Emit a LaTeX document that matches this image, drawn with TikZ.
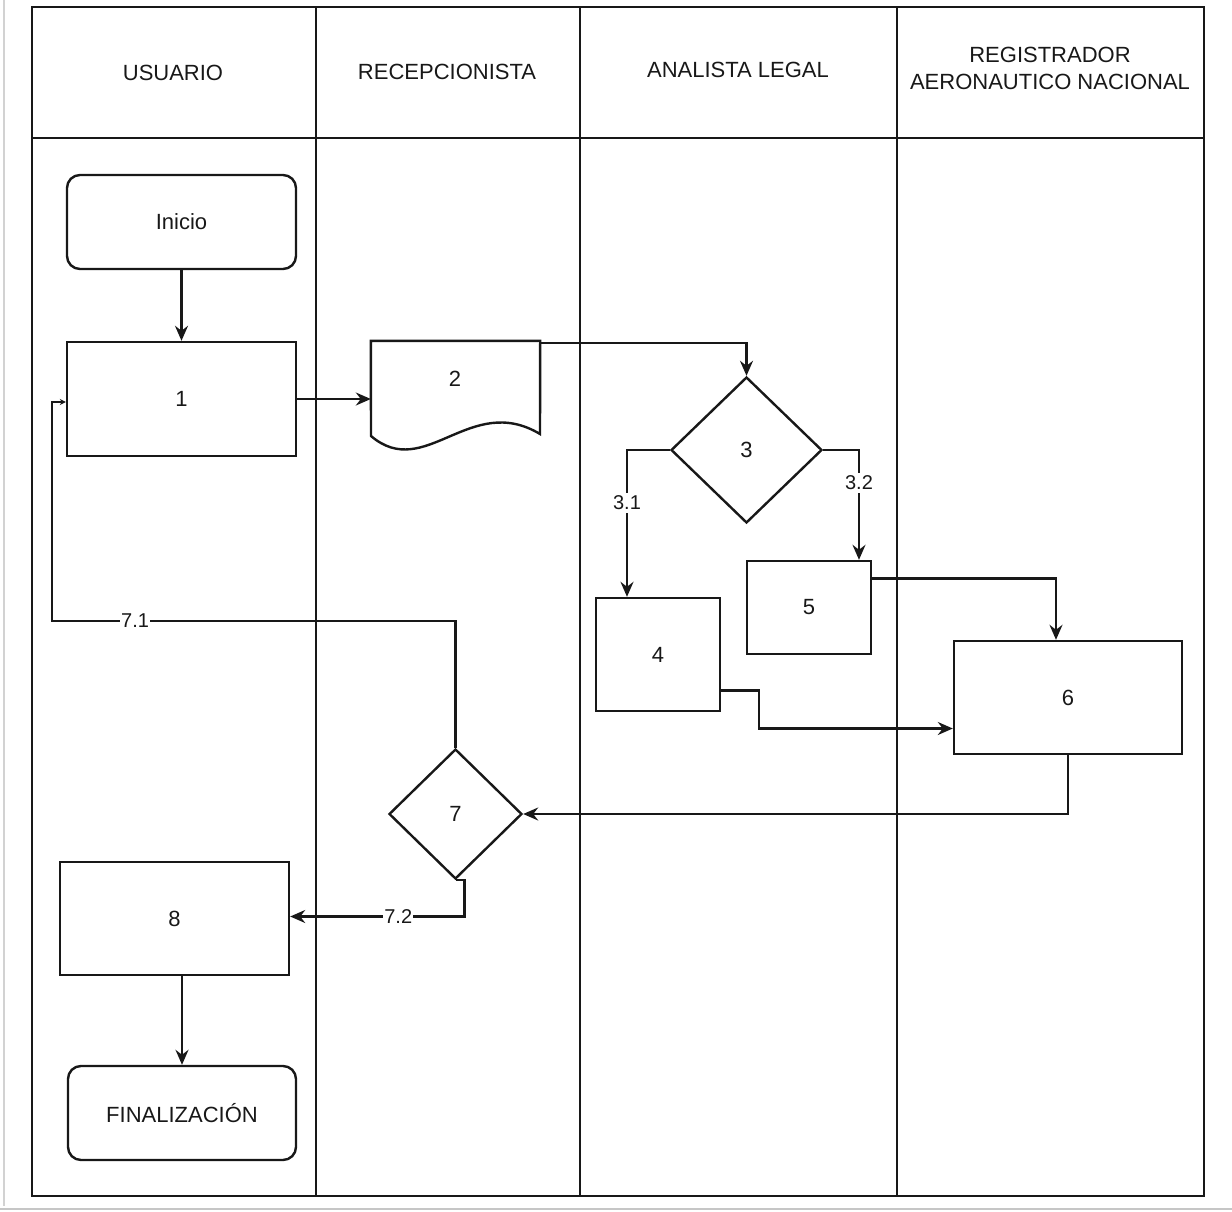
\documentclass[tikz,border=0pt]{standalone}
\usepackage{fontspec}
\setmainfont{Liberation Sans}
\usetikzlibrary{shapes.geometric,arrows.meta}
\definecolor{ink}{RGB}{24,24,24}
\begin{document}
\begin{tikzpicture}[x=1pt,y=-1pt,
  txt/.style={font=\fontsize{22}{27}\selectfont, text=ink},
  proc/.style={draw=ink, line width=2.4pt, inner sep=0pt, txt},
  term/.style={proc, rounded corners=13pt},
  dec/.style={proc, diamond},
  lane/.style={draw=ink, line width=2.2pt},
  arr/.style={draw=ink, line width=2.2pt, -{Stealth[length=15pt,width=13pt,inset=5pt]}},
  arrsmall/.style={draw=ink, line width=2.2pt, -{Stealth[length=6pt,width=6pt,inset=2pt]}},
  lbl/.style={fill=white, inner xsep=1pt, inner ysep=3pt, font=\fontsize{20}{22}\selectfont, text=ink}]
\useasboundingbox (0,0) rectangle (1232,1212);
% scan edge shadows
\draw[gray!35, line width=2pt] (4,0) -- (4,1206);
\draw[gray!45, line width=2.5pt] (0,1209) -- (1232,1209);
% swimlane frame
\draw[lane, line width=2.6pt] (32,7) rectangle (1204,1196);
\draw[lane] (32,138) -- (1204,138);
\draw[lane] (316,7) -- (316,1196);
\draw[lane] (580,7) -- (580,1196);
\draw[lane] (897,7) -- (897,1196);
% headers
\node[txt] (h1) at (173,73) {USUARIO};
\node[txt] (h2) at (447,72) {RECEPCIONISTA};
\node[txt] (h3) at (738,70) {ANALISTA LEGAL};
\node[txt, align=center] (h4) at (1050,68) {REGISTRADOR\\AERONAUTICO NACIONAL};
% nodes
\node[term, minimum width=229pt, minimum height=94pt] (ini) at (181.5,222) {Inicio};
\node[proc, minimum width=229pt, minimum height=114pt] (n1) at (181.5,399) {1};
\node[minimum width=169pt, minimum height=95pt, inner sep=0pt] (d2) at (455.5,388.5) {};
\draw[ink, line width=2.4pt] (d2.north west) -- (d2.north east) -- (540,434)
   .. controls (470,392) and (425,482) .. (371,436) -- cycle;
\node[txt] (d2t) at (455,379) {2};
\node[dec, minimum width=151pt, minimum height=146pt] (n3) at (746.5,450) {3};
\node[proc, minimum width=124pt, minimum height=113pt] (n4) at (658,654.5) {4};
\node[proc, minimum width=124pt, minimum height=93pt] (n5) at (809,607.5) {5};
\node[proc, minimum width=228pt, minimum height=113pt] (n6) at (1068,697.5) {6};
\node[dec, minimum width=133pt, minimum height=130pt] (n7) at (455.5,814) {7};
\node[proc, minimum width=229pt, minimum height=113pt] (n8) at (174.5,918.5) {8};
\node[term, minimum width=228pt, minimum height=94pt] (fin) at (182,1113) {FINALIZACIÓN};
\coordinate (c71) at (52,621);
% connectors
\draw[arr] (ini) -- (n1);
\draw[arr] (n1.east) -- (n1.east -| d2.west);
\draw[arr] ([yshift=-2pt]d2.north east) -| (n3.north);
\draw[arr] (n3.west) -| node[lbl, pos=0.68] {3.1} ([xshift=-31pt]n4.north);
\draw[arr] (n3.east) -| node[lbl, pos=0.65] {3.2} ([xshift=50pt]n5.north);
\draw[arr] ([yshift=29pt]n5.east) -| ([xshift=-12pt]n6.north);
\draw[arr] ([yshift=-36pt]n4.east) -- ++(38,0) |- ([yshift=-31pt]n6.west);
\draw[arr] (n6.south) |- (n7.east);
\draw[arrsmall] (n7.north) |- node[lbl, pos=0.897] {7.1} (c71) |- ([yshift=-3pt]n1.west);
\draw[arr] (n7.south) -- ++(9,0) |- node[lbl, pos=0.69] {7.2} ([yshift=2pt]n8.east);
\draw[arr] (n8.south -| fin.north) -- (fin.north);
\end{tikzpicture}
\end{document}
